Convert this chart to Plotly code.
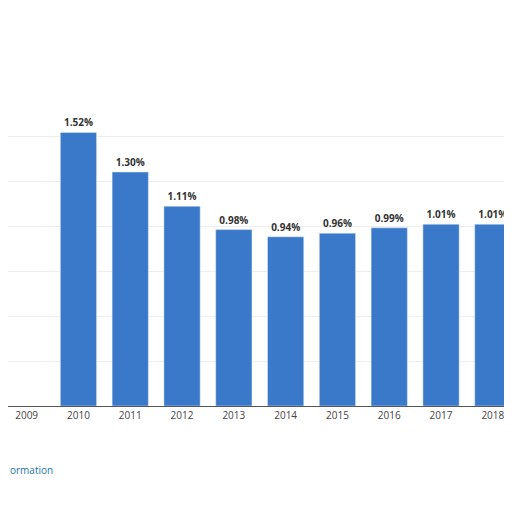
import plotly.graph_objects as go

years = ["2009","2010","2011","2012","2013","2014","2015","2016","2017","2018"]
values = [None,1.52,1.30,1.11,0.98,0.94,0.96,0.99,1.01,1.01]
labels = ["","1.52%","1.30%","1.11%","0.98%","0.94%","0.96%","0.99%","1.01%","1.01%"]

fig = go.Figure(go.Bar(x=list(range(len(years))), y=values, text=labels,
    textposition="outside", textfont=dict(size=10, color="#333", family="Open Sans", weight="bold"),
    marker_color="#3a78c9", width=0.7, cliponaxis=False))
fig.update_layout(width=512, height=512, margin=dict(l=0, r=8, t=92, b=114),
    plot_bgcolor="white", paper_bgcolor="white", showlegend=False,
    xaxis=dict(range=[-0.36,9.37], tickvals=list(range(len(years))), ticktext=years,
               tickfont=dict(size=10, color="#444", family="Open Sans"),
               showline=True, linecolor="#555", showgrid=False),
    yaxis=dict(range=[0,1.7], showticklabels=False, gridcolor="#eee", dtick=0.25, zeroline=False))
fig.add_annotation(text="ormation", xref="paper", yref="paper", x=0, y=-0.24, showarrow=False,
                   xanchor="left", font=dict(size=10, color="#1a73a8", family="Open Sans"))
fig.add_annotation(text="©", xref="paper", yref="paper", x=1.015, y=-0.165, showarrow=False,
                   xanchor="right", font=dict(size=10, color="#1a73a8"))
fig.write_html("out.html")
